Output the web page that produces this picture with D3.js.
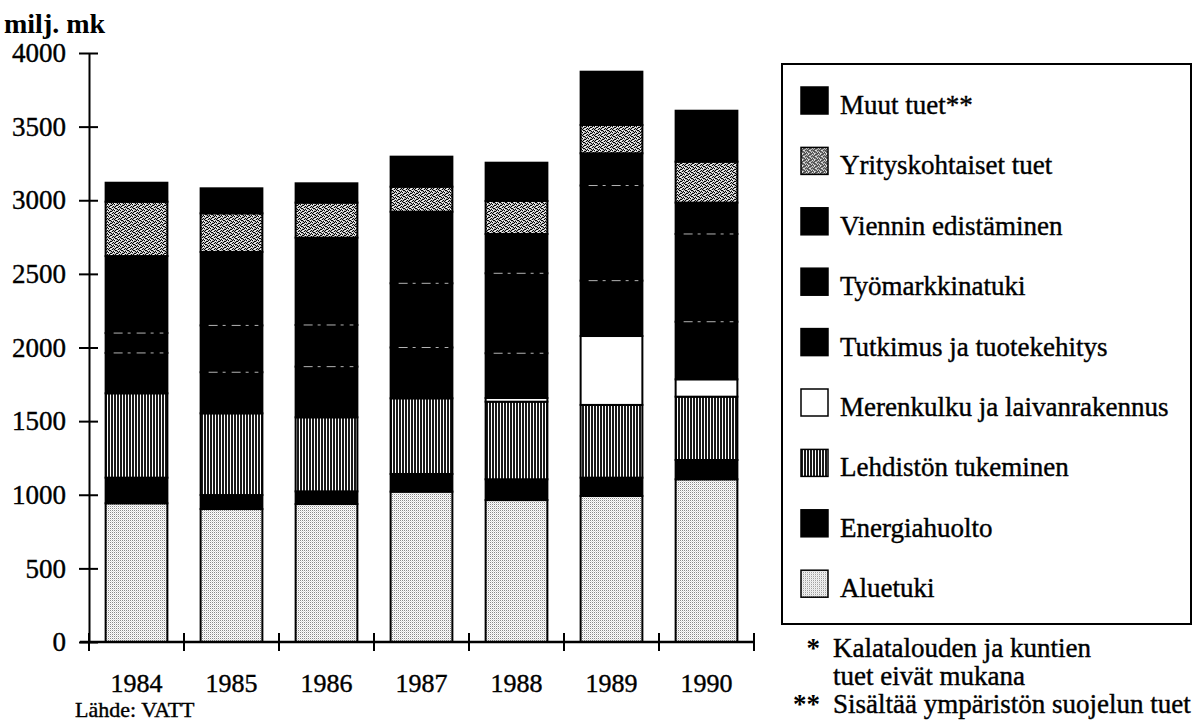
<!DOCTYPE html>
<html>
<head>
<meta charset="utf-8">
<script src="https://cdn.jsdelivr.net/npm/d3@7/dist/d3.min.js"></script>
<style>
  html, body { margin: 0; padding: 0; background: #fff; }
  svg text { font-family: "Liberation Serif", "DejaVu Serif", serif; fill: #000; }
</style>
</head>
<body>
<svg id="chart" width="1203" height="722"></svg>
<script>
// ---------------------------------------------------------------------------
// Data (milj. mk)
// ---------------------------------------------------------------------------
const years = ["1984", "1985", "1986", "1987", "1988", "1989", "1990"];

const aluetuki      = [942, 903, 937, 1021, 964, 992, 1105];
const energiahuolto = [174, 95, 86, 120, 141, 124, 131];
const lehdisto      = [573, 555, 503, 514, 527, 494, 430];
const merenkulku    = [0, 0, 0, 0, 25, 468, 118];
const tutkimus      = [274, 279, 344, 345, 304, 376, 391];
const tyomarkkina   = [135, 318, 283, 436, 543, 646, 596];
const viennin       = [523, 499, 593, 486, 267, 219, 213];
const yritys        = [369, 262, 238, 170, 224, 192, 278];
const muut          = [129, 170, 131, 204, 260, 362, 346];

const seriesNames = [
  "Aluetuki", "Energiahuolto", "Lehdistön tukeminen", "Merenkulku ja laivanrakennus",
  "Tutkimus ja tuotekehitys", "Työmarkkinatuki", "Viennin edistäminen",
  "Yrityskohtaiset tuet", "Muut tuet**"
];
const seriesValues = [aluetuki, energiahuolto, lehdisto, merenkulku, tutkimus,
  tyomarkkina, viennin, yritys, muut];

const yTicks = [0, 500, 1000, 1500, 2000, 2500, 3000, 3500, 4000];

// fill per series (patterns defined below)
const fills = ["url(#dots)", "#000", "url(#stripes)", "#fff", "#000", "#000", "#000",
  "url(#speckle)", "#000"];

// ---------------------------------------------------------------------------
// Layout
// ---------------------------------------------------------------------------
const X0 = 89, X1 = 754, Y0 = 642, Y1 = 53;
const FONT = 27;

const svg = d3.select("#chart");
const defs = svg.append("defs");

// stipple for Aluetuki
const dots = defs.append("pattern").attr("id", "dots")
  .attr("patternUnits", "userSpaceOnUse").attr("width", 2).attr("height", 2);
dots.append("rect").attr("width", 2).attr("height", 2).attr("fill", "#fff");
dots.append("rect").attr("width", 1).attr("height", 1).attr("fill", "#8a8a8a");
dots.append("rect").attr("x", 1).attr("y", 1).attr("width", 1).attr("height", 1).attr("fill", "#dcdcdc");

// vertical stripes for Lehdistön tukeminen
const stripes = defs.append("pattern").attr("id", "stripes")
  .attr("patternUnits", "userSpaceOnUse").attr("width", 3).attr("height", 3);
stripes.append("rect").attr("width", 3).attr("height", 3).attr("fill", "#fff");
stripes.append("rect").attr("width", 2).attr("height", 3).attr("fill", "#1a1a1a");

// speckled texture for Yrityskohtaiset tuet
const speckle = defs.append("pattern").attr("id", "speckle")
  .attr("patternUnits", "userSpaceOnUse").attr("width", 6).attr("height", 6);
speckle.append("rect").attr("width", 6).attr("height", 6).attr("fill", "#b8b8b8");
[[0, 0], [3, 1], [1, 2], [4, 3], [2, 4], [5, 5], [0, 3], [3, 5], [4, 0], [1, 4], [5, 2], [2, 1]]
  .forEach(([px, py]) => {
    speckle.append("rect").attr("x", px).attr("y", py).attr("width", 1).attr("height", 1).attr("fill", "#000");
  });
[[1, 0], [5, 1], [2, 3], [4, 4], [0, 5], [3, 2]].forEach(([px, py]) => {
  speckle.append("rect").attr("x", px).attr("y", py).attr("width", 1).attr("height", 1).attr("fill", "#fff");
});

const x = d3.scaleBand().domain(years).range([X0, X1])
  .paddingInner(0.35).paddingOuter(0.175);
const y = d3.scaleLinear().domain([0, 4000]).range([Y0, Y1]);

// table for d3.stack
const table = years.map((yr, i) => {
  const row = { year: yr };
  seriesNames.forEach((name, k) => { row[name] = seriesValues[k][i]; });
  return row;
});
const stacked = d3.stack().keys(seriesNames)(table);

// ---------------------------------------------------------------------------
// Bars
// ---------------------------------------------------------------------------
const layers = svg.append("g").selectAll("g")
  .data(stacked)
  .join("g")
  .attr("fill", (d, i) => fills[i]);

layers.selectAll("rect")
  .data(d => d.filter(s => s[1] - s[0] > 0))
  .join("rect")
  .attr("x", d => x(d.data.year))
  .attr("y", d => y(d[1]))
  .attr("width", x.bandwidth())
  .attr("height", d => y(d[0]) - y(d[1]))
  .attr("stroke", "#000")
  .attr("stroke-width", 2);

// faint white seams between the black segments
const seamKeys = ["Tutkimus ja tuotekehitys", "Työmarkkinatuki"];
stacked.filter(s => seamKeys.includes(s.key)).forEach(s => {
  svg.append("g").selectAll("line")
    .data(s)
    .join("line")
    .attr("x1", d => x(d.data.year) + 8)
    .attr("x2", d => x(d.data.year) + x.bandwidth() - 4)
    .attr("y1", d => y(d[1]))
    .attr("y2", d => y(d[1]))
    .attr("stroke", "#fff")
    .attr("stroke-width", 1)
    .attr("stroke-dasharray", "9,5,3,6")
    .attr("opacity", 0.7);
});

// ---------------------------------------------------------------------------
// Axes
// ---------------------------------------------------------------------------
const yAxis = svg.append("g").attr("transform", `translate(${X0},0)`)
  .call(d3.axisLeft(y).tickValues(yTicks).tickFormat(d3.format("d"))
    .tickSize(0).tickPadding(23));
yAxis.attr("font-family", null);
yAxis.select(".domain").attr("stroke", "#000").attr("stroke-width", 2);
yAxis.selectAll("text")
  .attr("font-size", FONT)
  .attr("stroke", "#000").attr("stroke-width", 0.4);
yAxis.selectAll(".tick").append("line")
  .attr("x1", -10).attr("x2", 9)
  .attr("stroke", "#000").attr("stroke-width", 2);

const xAxis = svg.append("g").attr("transform", `translate(0,${Y0})`);
xAxis.append("line").attr("x1", X0 - 9).attr("x2", X1)
  .attr("stroke", "#000").attr("stroke-width", 2.5);
const boundaries = years.map(yr => x(yr) - x.step() * x.paddingOuter()).concat([X1]);
xAxis.selectAll("line.xtick")
  .data(boundaries)
  .join("line")
  .attr("class", "xtick")
  .attr("x1", d => d).attr("x2", d => d)
  .attr("y1", -9).attr("y2", 9)
  .attr("stroke", "#000").attr("stroke-width", 2);
xAxis.selectAll("text.year")
  .data(years)
  .join("text")
  .attr("class", "year")
  .attr("x", d => x(d) + x.bandwidth() / 2)
  .attr("y", 50)
  .attr("text-anchor", "middle")
  .attr("font-size", 26)
  .attr("stroke", "#000").attr("stroke-width", 0.4)
  .text(d => d);

svg.append("text")
  .attr("x", 4).attr("y", 33)
  .attr("font-size", 28).attr("font-weight", "bold")
  .text("milj. mk");

svg.append("text")
  .attr("x", 75).attr("y", 717)
  .attr("font-size", 22)
  .attr("stroke", "#000").attr("stroke-width", 0.4)
  .text("Lähde: VATT");

// ---------------------------------------------------------------------------
// Legend
// ---------------------------------------------------------------------------
const legend = svg.append("g");
legend.append("rect")
  .attr("x", 782).attr("y", 64).attr("width", 409).attr("height", 560)
  .attr("fill", "none").attr("stroke", "#000").attr("stroke-width", 2);

const legendOrder = d3.range(seriesNames.length).reverse();
const items = legend.selectAll("g.item")
  .data(legendOrder)
  .join("g")
  .attr("class", "item")
  .attr("transform", (d, i) => `translate(801,${87 + i * 60.4})`);
items.append("rect")
  .attr("width", 27).attr("height", 27)
  .attr("fill", d => fills[d])
  .attr("stroke", "#000").attr("stroke-width", 1.5);
items.append("text")
  .attr("x", 39).attr("y", 27)
  .attr("font-size", FONT)
  .attr("stroke", "#000").attr("stroke-width", 0.4)
  .text(d => seriesNames[d]);

// footnotes
const notes = [
  { mark: "*", text: "Kalatalouden ja kuntien", y: 657 },
  { mark: "", text: "tuet eivät mukana", y: 685 },
  { mark: "**", text: "Sisältää ympäristön suojelun tuet", y: 713 }
];
const noteG = svg.append("g");
noteG.selectAll("text.mark")
  .data(notes)
  .join("text")
  .attr("class", "mark")
  .attr("x", 820).attr("y", d => d.y)
  .attr("text-anchor", "end")
  .attr("font-size", FONT).attr("font-weight", "bold")
  .text(d => d.mark);
noteG.selectAll("text.note")
  .data(notes)
  .join("text")
  .attr("class", "note")
  .attr("x", 833).attr("y", d => d.y)
  .attr("font-size", FONT)
  .attr("stroke", "#000").attr("stroke-width", 0.4)
  .text(d => d.text);
</script>
</body>
</html>
